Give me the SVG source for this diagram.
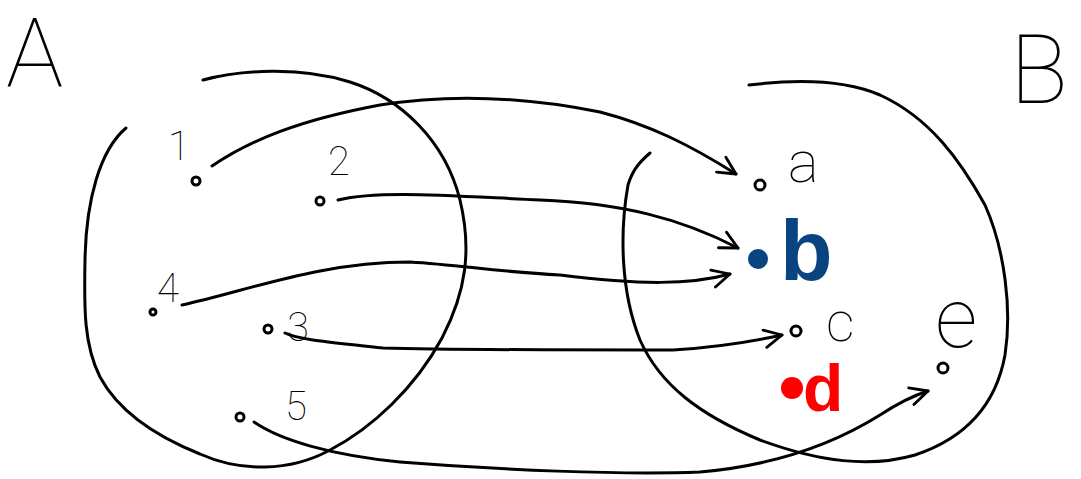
<svg xmlns="http://www.w3.org/2000/svg" width="1081" height="479" viewBox="0 0 1081 479">
<style>
  .stroke { fill: none; stroke: #000; stroke-width: 3; stroke-linecap: round; stroke-linejoin: round; }
  .pt { fill: none; stroke: #000; stroke-width: 3; }
  .lbl { font-family: "Roboto", "DejaVu Sans", sans-serif; font-weight: 100; fill: #000; }
  .conn { fill: none; stroke: #000; stroke-width: 3; stroke-linecap: round; stroke-linejoin: round; marker-end: url(#arrow); }
</style>
<defs>
  <marker id="arrow" viewBox="0 0 12 12" refX="11" refY="6" markerWidth="7" markerHeight="7" orient="auto" markerUnits="strokeWidth">
    <path d="M1,1 L11,6 L1,11" fill="none" stroke="#000" stroke-width="1.6" stroke-linecap="round" stroke-linejoin="round"/>
  </marker>
</defs>
<rect width="1081" height="479" fill="#fff"/>

<g id="setA">
  <path class="stroke" d="M203,80 C240,70 300,66 350,82 C400,98 445,140 460,200 C472,250 466,292 442,338 C415,388 372,428 330,450 C290,472 240,472 200,454 C160,438 120,414 100,377 C84,345 84,310 85,260 C86,200 100,150 126,128"/>
  <text class="lbl" x="6" y="87" font-size="96">A</text>
</g>
<g id="setB">
  <path class="stroke" d="M749,85 C790,80 840,78 880,95 C930,118 960,160 985,205 C1005,250 1012,310 1005,355 C995,410 960,440 915,455 C870,468 820,462 760,440 C700,415 660,385 640,340 C620,290 620,230 628,185 C633,168 642,160 650,153"/>
  <text class="lbl" x="1010" y="103" font-size="96">B</text>
</g>

<g id="n1"><circle class="pt" cx="196" cy="181" r="4"/><text class="lbl" x="168" y="160" font-size="40">1</text></g>
<g id="n2"><circle class="pt" cx="320" cy="201" r="4"/><text class="lbl" x="328" y="175" font-size="40">2</text></g>
<g id="n3"><circle class="pt" cx="268" cy="329" r="4"/><text class="lbl" x="287" y="341" font-size="40">3</text></g>
<g id="n4"><circle class="pt" cx="153" cy="312" r="3"/><text class="lbl" x="157" y="302" font-size="40">4</text></g>
<g id="n5"><circle class="pt" cx="240" cy="417" r="4"/><text class="lbl" x="285" y="420" font-size="40">5</text></g>

<g id="na"><circle class="pt" cx="760" cy="185" r="5"/><text class="lbl" x="788" y="182" font-size="58">a</text></g>
<g id="nb"><circle cx="758" cy="259" r="10" fill="#0a4480"/><text x="780" y="280" font-size="86" font-weight="bold" font-family="Liberation Sans, sans-serif" fill="#0a4480">b</text></g>
<g id="nc"><circle class="pt" cx="796" cy="331" r="5"/><text class="lbl" x="826" y="341" font-size="56">c</text></g>
<g id="nd"><circle cx="792" cy="388" r="11" fill="#f00"/><text x="803" y="411" font-size="66" font-weight="bold" font-family="Liberation Sans, sans-serif" fill="#f00">d</text></g>
<g id="ne"><circle class="pt" cx="943" cy="368" r="5"/><text class="lbl" x="935" y="347" font-size="84">e</text></g>

<g id="connectors">
  <path class="conn" d="M212,166 C250,140 300,120 380,105 C460,92 540,100 600,112 C650,125 690,145 736,174"/>
  <path class="conn" d="M338,200 C380,190 450,196 540,200 C620,203 680,218 738,248"/>
  <path class="conn" d="M182,305 C250,290 320,262 410,262 C460,265 500,272 560,275 C640,285 690,285 730,274"/>
  <path class="conn" d="M285,333 C300,340 330,342 383,348 C450,350 600,350 673,350 C720,347 750,342 782,335"/>
  <path class="conn" d="M254,422 C280,440 330,455 400,462 C500,470 620,475 700,472 C780,465 840,440 880,415 C900,402 912,396 928,391"/>
</g>
</svg>
